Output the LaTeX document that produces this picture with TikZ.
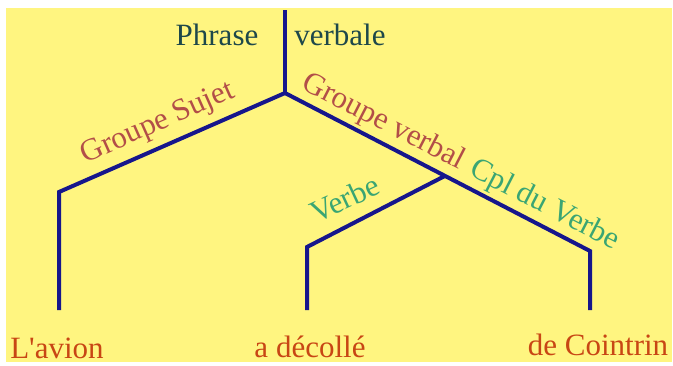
\documentclass[tikz,border=0pt]{standalone}
\usepackage{fontspec}
\setmainfont{Liberation Serif}
\usetikzlibrary{calc}
\definecolor{bgyellow}{RGB}{255,245,128}
\definecolor{linecol}{RGB}{22,22,140}
\definecolor{tealc}{RGB}{30,72,74}
\definecolor{redc}{RGB}{178,78,72}
\definecolor{greenc}{RGB}{58,165,115}
\definecolor{orangec}{RGB}{200,70,20}
\begin{document}
\begin{tikzpicture}[x=1pt,y=-1pt,
  branch/.style={draw=linecol, line width=4pt},
  lbl/.style={font=\fontsize{31}{36}\selectfont, inner sep=0pt, anchor=base}]
\useasboundingbox (0,0) rectangle (673,365);
\fill[white] (0,0) rectangle (673,365);
\fill[bgyellow] (6,8) rectangle (672,362);
% tree points
\coordinate (top) at (285,10);
\coordinate (root) at (285,93);
\coordinate (lc) at (59,192);
\coordinate (rc) at (590,251);
\coordinate (vj) at ($(root)!0.5246!(rc)$);
\coordinate (vc) at (307,247);
\coordinate (l1) at (59,310);
\coordinate (l2) at (307,310);
\coordinate (l3) at (590,310);
% branches
\draw[branch] (top) -- (root);
\draw[branch] (root) -- (lc) -- (l1);
\draw[branch] (root) -- (rc) -- (l3);
\draw[branch] (vj) -- (vc) -- (l2);
% labels
\node[lbl, text=tealc] (phr) at (217,45) {Phrase};
\node[lbl, text=tealc] (vbl) at (340,45) {verbale};
\node[lbl, text=redc, rotate=24] (gs) at (161,130) {Groupe Sujet};
\node[lbl, text=redc, rotate=-27.2] (gv) at (380,129) {Groupe verbal};
\node[lbl, text=greenc, rotate=-27.2] (cpl) at (541,212) {Cpl du Verbe};
\node[lbl, text=greenc, rotate=25] (vbe) at (349,208) {Verbe};
\node[lbl, text=orangec] (t1) at (57,358) {L\textquotesingle avion};
\node[lbl, text=orangec] (t2) at (310,357) {a décollé};
\node[lbl, text=orangec] (t3) at (598,355) {de Cointrin};
\end{tikzpicture}
\end{document}
